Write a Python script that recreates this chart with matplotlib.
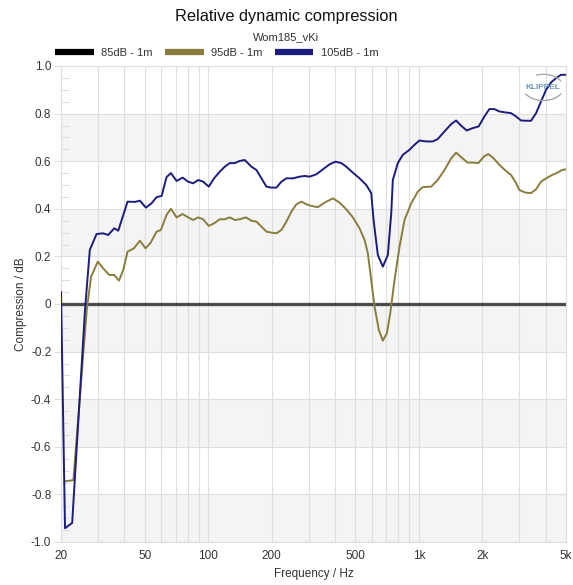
import matplotlib
matplotlib.use("Agg")
import matplotlib.pyplot as plt
from matplotlib.lines import Line2D
from matplotlib.patches import Arc

plt.rcParams['font.family'] = ['Liberation Sans', 'DejaVu Sans']

# ---- data -------------------------------------------------------------
series_labels = ["85dB - 1m", "95dB - 1m", "105dB - 1m"]

freq_85 = [20, 5000]
comp_85 = [0.0, 0.0]

freq_95 = [20.9, 22.9, 26.5, 27.8, 29.9, 31.7, 33.9, 35.8, 37.7, 39.5, 41.4,
           44.4, 47.4, 50.4, 53.3, 56.9, 59.6, 63.4, 66.5, 70.8, 75.6, 80.3,
           84.8, 89.6, 94.6, 100.6, 106.6, 113.5, 119.9, 126.6, 133.7, 141.2,
           150.8, 160.4, 169.5, 179.0, 189.0, 199.6, 210.8, 222.6, 235.1,
           248.3, 262.2, 276.9, 292.5, 308.9, 331.9, 357.2, 391.0, 420.6,
           452.5, 486.2, 523.3, 552.7, 573.0, 594.4, 616.4, 646.0, 674.8,
           705.2, 731.8, 767.0, 810, 855.4, 920.2, 989, 1044, 1145, 1230,
           1324, 1425, 1504, 1589, 1707, 1803, 1919, 2033, 2140, 2260, 2413,
           2576, 2742, 2896, 3002, 3206, 3412, 3604, 3806, 4020, 4293, 4561,
           4786, 5000]
comp_95 = [-0.745, -0.74, -0.025, 0.115, 0.178, 0.15, 0.122, 0.122, 0.098,
           0.143, 0.22, 0.234, 0.266, 0.234, 0.258, 0.304, 0.311, 0.374, 0.4,
           0.364, 0.378, 0.364, 0.353, 0.364, 0.356, 0.328, 0.339, 0.356,
           0.356, 0.364, 0.353, 0.356, 0.364, 0.35, 0.346, 0.325, 0.304, 0.3,
           0.297, 0.311, 0.346, 0.388, 0.419, 0.43, 0.419, 0.412, 0.407,
           0.426, 0.444, 0.426, 0.398, 0.364, 0.318, 0.269, 0.213, 0.101,
           -0.011, -0.109, -0.154, -0.123, -0.039, 0.101, 0.241, 0.353, 0.423,
           0.472, 0.491, 0.493, 0.521, 0.563, 0.612, 0.636, 0.617, 0.594,
           0.594, 0.592, 0.619, 0.63, 0.613, 0.585, 0.561, 0.542, 0.508,
           0.479, 0.468, 0.466, 0.482, 0.514, 0.528, 0.542, 0.552, 0.563,
           0.566]

freq_105 = [20, 20.9, 22.6, 26.0, 27.4, 29.5, 31.7, 33.5, 35.8, 37.4, 41.4,
            44.9, 47.4, 50.6, 53.8, 56.9, 60.1, 63.4, 66.5, 70.8, 75.6, 80.3,
            84.8, 89.6, 94.6, 100.6, 106.6, 113.5, 119.9, 126.6, 133.7, 141.2,
            149.1, 160.4, 169.5, 179.0, 189.0, 199.6, 210.8, 222.6, 235.1,
            252.7, 271.8, 287.1, 303.2, 326.2, 350.6, 377.2, 402.6, 428.5,
            452.5, 486.2, 523.3, 563.0, 594.4, 609.8, 639.0, 674.8, 712.8,
            739.8, 752.8, 795.0, 839.8, 903.2, 954, 1007, 1084, 1165, 1230,
            1324, 1425, 1504, 1589, 1689, 1803, 1924, 2049, 2163, 2285, 2413,
            2576, 2742, 2896, 3058, 3230, 3412, 3604, 3806, 4020, 4246, 4483,
            4733, 5000]
comp_105 = [0.05, -0.942, -0.92, -0.025, 0.227, 0.294, 0.297, 0.29, 0.318,
            0.308, 0.43, 0.429, 0.434, 0.405, 0.423, 0.449, 0.454, 0.533,
            0.55, 0.517, 0.531, 0.514, 0.507, 0.521, 0.514, 0.493, 0.528,
            0.556, 0.577, 0.592, 0.592, 0.601, 0.605, 0.577, 0.563, 0.528,
            0.493, 0.489, 0.489, 0.514, 0.528, 0.528, 0.535, 0.538, 0.535,
            0.545, 0.566, 0.587, 0.598, 0.592, 0.577, 0.552, 0.528, 0.5,
            0.466, 0.353, 0.206, 0.157, 0.206, 0.381, 0.521, 0.592, 0.627,
            0.648, 0.669, 0.687, 0.683, 0.683, 0.693, 0.725, 0.756, 0.771,
            0.749, 0.729, 0.739, 0.746, 0.788, 0.819, 0.819, 0.809, 0.805,
            0.802, 0.788, 0.771, 0.77, 0.77, 0.802, 0.851, 0.9, 0.931, 0.949,
            0.963, 0.963]

x_ticks = [20, 50, 100, 200, 500, 1000, 2000, 5000]
x_tick_labels = ["20", "50", "100", "200", "500", "1k", "2k", "5k"]
y_ticks = [1.0, 0.8, 0.6, 0.4, 0.2, 0.0, -0.2, -0.4, -0.6, -0.8, -1.0]
y_tick_labels = ["1.0", "0.8", "0.6", "0.4", "0.2", "0", "-0.2", "-0.4",
                 "-0.6", "-0.8", "-1.0"]

# ---- styling ----------------------------------------------------------
col_85 = "#000000"
col_95 = "#8a7c3c"
col_105 = "#1c1c7e"
grid_col = "#dedede"
text_col = "#333333"

fig = plt.figure(figsize=(5.73, 5.85), dpi=100)
ax = fig.add_axes([61 / 573, 1 - 542 / 585, 505 / 573, 476 / 585])

ax.set_xscale("log")
ax.set_xlim(20, 5000)
ax.set_ylim(-1.0, 1.0)

# alternating horizontal bands
for lo in [0.6, 0.2, -0.2, -0.6, -1.0]:
    ax.axhspan(lo, lo + 0.2, color="#f4f4f4", zorder=0, lw=0)

# vertical grid at every decade subdivision
vgrid = [v for v in range(20, 101, 10)] + [v for v in range(200, 1001, 100)] + \
        [2000, 3000, 4000, 5000]
for v in vgrid:
    ax.axvline(v, color=grid_col, lw=0.8, zorder=1)
for v in y_ticks:
    ax.axhline(v, color=grid_col, lw=0.8, zorder=1)

ax.plot(freq_85, comp_85, color=col_85, lw=2.4, alpha=0.68, zorder=3,
        solid_capstyle="butt")
ax.plot(freq_95, comp_95, color=col_95, lw=1.4, zorder=4)
ax.plot(freq_105, comp_105, color=col_105, lw=1.4, zorder=5)

ax.set_xticks(x_ticks)
ax.set_xticklabels(x_tick_labels)
ax.set_xticks([], minor=True)
ax.set_yticks(y_ticks)
ax.set_yticklabels(y_tick_labels)
ax.set_yticks([-1 + 0.05 * i for i in range(41)], minor=True)
ax.tick_params(axis="x", which="major", length=0, pad=6, labelsize=8.5,
               labelcolor=text_col)
ax.tick_params(axis="y", which="major", length=5, width=0.8, color=grid_col,
               pad=2, labelsize=8.5, labelcolor=text_col)
ax.tick_params(axis="y", which="minor", direction="in", length=6, width=0.8,
               color=grid_col)
for s in ax.spines.values():
    s.set_color(grid_col)
    s.set_linewidth(0.8)

ax.set_xlabel("Frequency / Hz", fontsize=8.5, color=text_col, labelpad=4)
ax.set_ylabel("Compression / dB", fontsize=8.5, color=text_col, labelpad=3)

fig.text(0.5, 1 - 17 / 585, "Relative dynamic compression", ha="center",
         va="center", fontsize=11.8, color="#111111")
fig.text(0.5, 1 - 37 / 585, "Wom185_vKi", ha="center", va="center",
         fontsize=8, color=text_col)

handles = [Line2D([], [], color=c, lw=4.5, solid_capstyle="butt")
           for c in (col_85, col_95, col_105)]
fig.legend(handles, series_labels, loc="center left", ncol=3,
           bbox_to_anchor=(55 / 573, 1 - 53 / 585), frameon=False,
           fontsize=8, handlelength=3.5, handletextpad=0.65,
           columnspacing=1.1, labelcolor=text_col, borderaxespad=0,
           borderpad=0)

# logo in the upper-right corner of the plot area
ax.text(0.955, 0.955, "KLIPPEL", transform=ax.transAxes, ha="center",
        va="center", fontsize=6, fontweight="bold", color="#6b95b8",
        zorder=6)
ax.add_patch(Arc((0.955, 0.955), 0.08, 0.055, theta1=200, theta2=340,
                 transform=ax.transAxes, color="#a8a8a8", lw=1.0, zorder=6))
ax.add_patch(Arc((0.955, 0.955), 0.08, 0.055, theta1=20, theta2=120,
                 transform=ax.transAxes, color="#a8a8a8", lw=1.0, zorder=6))

fig.savefig("out.png", dpi=100)
